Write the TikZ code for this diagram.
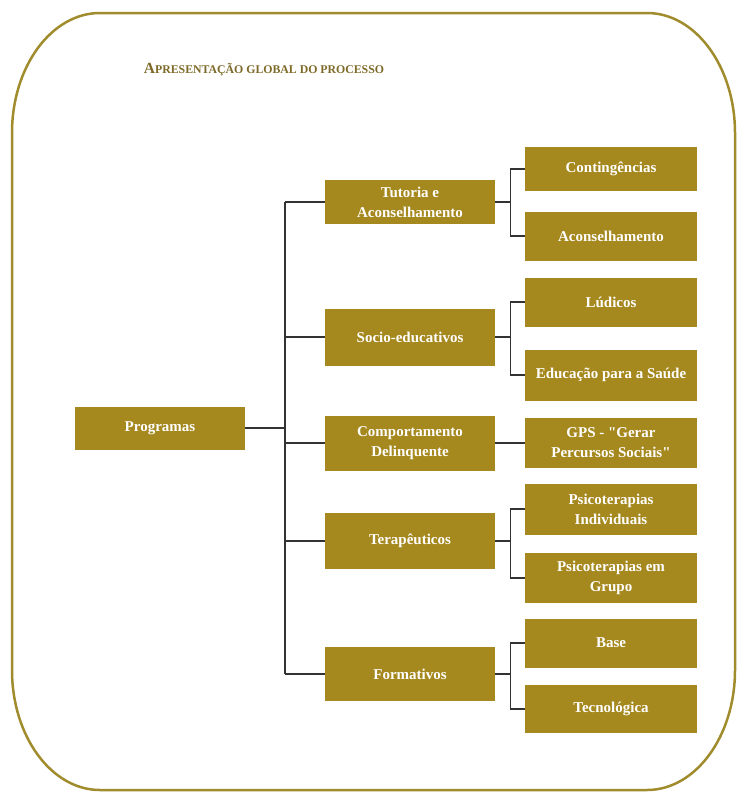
\documentclass[tikz,border=0pt]{standalone}
\usepackage{fontspec}
\setmainfont{Liberation Serif}
\newfontfamily\plainserif{Liberation Serif}[Ligatures=TeXOff]
\definecolor{gold}{RGB}{165,136,30}
\definecolor{rim}{RGB}{160,140,45}
\definecolor{ttl}{RGB}{125,105,40}
\begin{document}
\begin{tikzpicture}[x=1pt,y=-1pt,
 box/.style={fill=gold,text=white,font=\bfseries\fontsize{15}{20}\selectfont,align=center,inner sep=2pt},
 lone/.style={box,minimum width=170pt},
 ltwo/.style={box,minimum width=172pt},
 link/.style={draw=black!80,line width=1.3pt},
 corner/.style={x radius=88,y radius=120}]
\useasboundingbox (0,0) rectangle (745,795);
\draw[rim,line width=2.5pt] (12,133) arc[start angle=180,end angle=270,corner]
  -- (647,13) arc[start angle=270,end angle=360,corner]
  -- (735,670) arc[start angle=0,end angle=90,corner]
  -- (100,790) arc[start angle=90,end angle=180,corner] -- cycle;
\node[text=ttl,font=\bfseries] (title) at (264,70) {{\fontsize{15.5}{18}\selectfont A}{\fontsize{11.8}{14}\selectfont PRESENTAÇÃO GLOBAL DO PROCESSO}};

\node[box,minimum width=170pt,minimum height=43pt] (prog) at (160,428) {Programas};

\node[lone,minimum height=44pt] (tut) at (410,202) {Tutoria e\\Aconselhamento};
\node[lone,minimum height=57pt] (soc) at (410,337) {Socio-educativos};
\node[lone,minimum height=55pt] (com) at (410,443) {Comportamento\\Delinquente};
\node[lone,minimum height=56pt] (ter) at (410,541) {Terapêuticos};
\node[lone,minimum height=54pt] (for) at (410,674) {Formativos};

\node[ltwo,minimum height=44pt] (cont) at (611,169) {Contingências};
\node[ltwo,minimum height=49pt] (acon) at (611,236) {Aconselhamento};
\node[ltwo,minimum height=49pt] (lud) at (611,302) {Lúdicos};
\node[ltwo,minimum height=51pt] (edu) at (611,375) {Educação para a Saúde};
\node[ltwo,minimum height=50pt] (gps) at (611,443) {GPS - {\plainserif\bfseries"}Gerar\\Percursos Sociais{\plainserif\bfseries"}};
\node[ltwo,minimum height=51pt] (psi) at (611,509) {Psicoterapias\\Individuais};
\node[ltwo,minimum height=50pt] (psg) at (611,578) {Psicoterapias em\\Grupo};
\node[ltwo,minimum height=49pt] (bas) at (611,643) {Base};
\node[ltwo,minimum height=48pt] (tec) at (611,709) {Tecnológica};

\coordinate (ttop) at (285,202);
\coordinate (tbot) at (285,674);
\draw[link] (ttop) -- (tbot);
\draw[link] (prog.east) -- (prog.east -| ttop);
\foreach \n in {tut,soc,com,ter,for}{
  \draw[link] (\n.west) -- (\n.west -| ttop);
}
\draw[link] (tut.east) -- ++(15,0) |- (cont.west);
\draw[link] (tut.east) -- ++(15,0) |- (acon.west);
\draw[link] (soc.east) -- ++(15,0) |- (lud.west);
\draw[link] (soc.east) -- ++(15,0) |- (edu.west);
\draw[link] (com.east) -- (gps.west);
\draw[link] (ter.east) -- ++(15,0) |- (psi.west);
\draw[link] (ter.east) -- ++(15,0) |- (psg.west);
\draw[link] (for.east) -- ++(15,0) |- (bas.west);
\draw[link] (for.east) -- ++(15,0) |- (tec.west);
\end{tikzpicture}
\end{document}
